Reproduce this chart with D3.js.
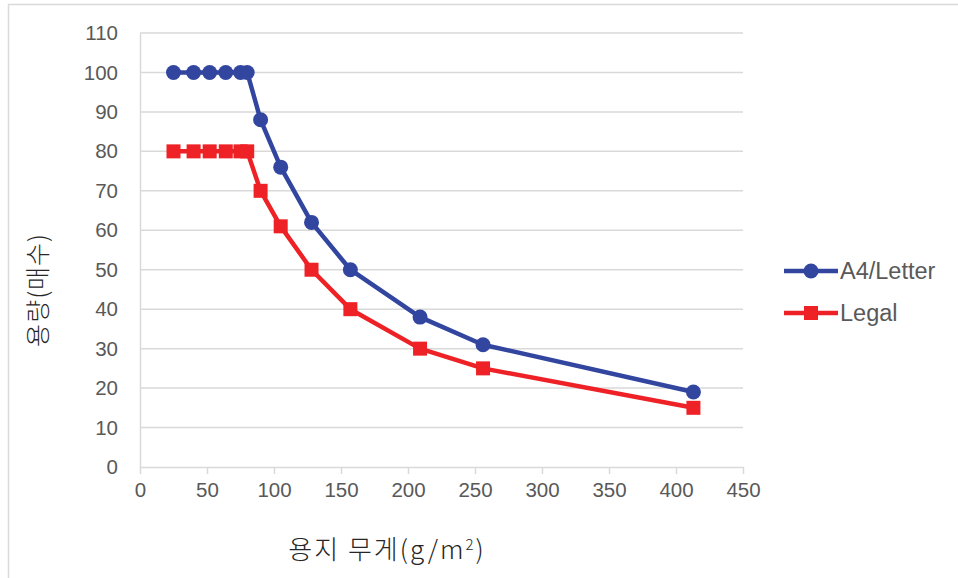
<!DOCTYPE html>
<html><head><meta charset="utf-8">
<script src="https://cdn.jsdelivr.net/npm/d3@7"></script>
<style>body{margin:0;background:#fff;} svg{display:block;font-family:"Liberation Sans",Arial,sans-serif;}</style>
</head><body>
<svg id="c" width="958" height="578"></svg>
<script>
const weights = [25, 40, 52, 64, 75, 80, 90, 105, 128, 157, 209, 256, 413];
const a4Letter = [100, 100, 100, 100, 100, 100, 88, 76, 62, 50, 38, 31, 19];
const legal = [80, 80, 80, 80, 80, 80, 70, 61, 50, 40, 30, 25, 15];
const xTicks = [0, 50, 100, 150, 200, 250, 300, 350, 400, 450];
const yTicks = [0, 10, 20, 30, 40, 50, 60, 70, 80, 90, 100, 110];
const seriesNames = ["A4/Letter", "Legal"];

const svg = d3.select("#c");
const x = d3.scaleLinear().domain([0, 450]).range([140, 743]);
const y = d3.scaleLinear().domain([0, 110]).range([467, 33]);
const blue = "#3246A0", red = "#EE2226", txt = "#595959", grid = "#D9D9D9";

// frame
svg.append("path").attr("d", "M8.5,578 V4.5 H958").attr("fill", "none").attr("stroke", "#D9D9D9").attr("stroke-width", 1.5);

// gridlines
svg.append("g").selectAll("line").data(yTicks.filter(d => d > 0)).join("line")
  .attr("x1", x(0)).attr("x2", x(450)).attr("y1", d => y(d)).attr("y2", d => y(d))
  .attr("stroke", grid).attr("stroke-width", 1.5);

// y axis
const ya = svg.append("g").attr("transform", `translate(${x(0)},0)`)
  .call(d3.axisLeft(y).tickValues(yTicks).tickSize(0).tickPadding(22));
ya.select(".domain").attr("stroke", grid).attr("stroke-width", 1.5);
ya.selectAll("text").attr("fill", txt).attr("font-size", 20.5).attr("font-family", "Liberation Sans, Arial, sans-serif");

// x axis
const xa = svg.append("g").attr("transform", `translate(0,${y(0)})`)
  .call(d3.axisBottom(x).tickValues(xTicks).tickSize(7).tickSizeOuter(0).tickPadding(8));
xa.select(".domain").attr("stroke", grid).attr("stroke-width", 1.5);
xa.selectAll(".tick line").attr("stroke", grid).attr("stroke-width", 1.5);
xa.selectAll("text").attr("fill", txt).attr("font-size", 20.5).attr("font-family", "Liberation Sans, Arial, sans-serif");

// lines
const line = d3.line().x((d, i) => x(weights[i])).y(d => y(d));
svg.append("path").datum(a4Letter).attr("d", line).attr("fill", "none").attr("stroke", blue).attr("stroke-width", 4.5).attr("stroke-linejoin", "round");
svg.append("path").datum(legal).attr("d", line).attr("fill", "none").attr("stroke", red).attr("stroke-width", 4.5).attr("stroke-linejoin", "round");

// markers
svg.append("g").selectAll("circle").data(a4Letter).join("circle")
  .attr("cx", (d, i) => x(weights[i])).attr("cy", d => y(d)).attr("r", 7.5).attr("fill", blue);
svg.append("g").selectAll("rect").data(legal).join("rect")
  .attr("x", (d, i) => x(weights[i]) - 7).attr("y", d => y(d) - 7).attr("width", 14).attr("height", 14).attr("fill", red);

// legend
const lg = [{c: blue, y: 271, shape: "circle"}, {c: red, y: 313, shape: "rect"}];
lg.forEach((l, i) => {
  svg.append("line").attr("x1", 784).attr("x2", 838).attr("y1", l.y).attr("y2", l.y).attr("stroke", l.c).attr("stroke-width", 4.5);
  if (l.shape === "circle") svg.append("circle").attr("cx", 811).attr("cy", l.y).attr("r", 7.5).attr("fill", l.c);
  else svg.append("rect").attr("x", 804).attr("y", l.y - 7).attr("width", 14).attr("height", 14).attr("fill", l.c);
  svg.append("text").attr("x", 840).attr("y", l.y).attr("dy", "0.36em").attr("font-size", 23.5).attr("fill", txt).text(seriesNames[i]);
});

// axis titles
svg.append("text").attr("x", 387).attr("y", 550).attr("dy", "0.36em").attr("text-anchor", "middle")
  .attr("font-size", 26).attr("fill", "#262626").attr("font-weight", 300).attr("letter-spacing", 2)
  .attr("font-family", "Noto Sans CJK KR, sans-serif")
  .html('용지 무게(g/m<tspan dy="-9" font-size="15">2</tspan><tspan dy="9">)</tspan>');
svg.append("text").attr("transform", "translate(38,290) rotate(-90)").attr("dy", "0.36em").attr("text-anchor", "middle")
  .attr("font-size", 25).attr("fill", "#262626").attr("font-weight", 300).attr("letter-spacing", 1)
  .attr("font-family", "Noto Sans CJK KR, sans-serif").text("용량(매수)");
</script>
</body></html>
